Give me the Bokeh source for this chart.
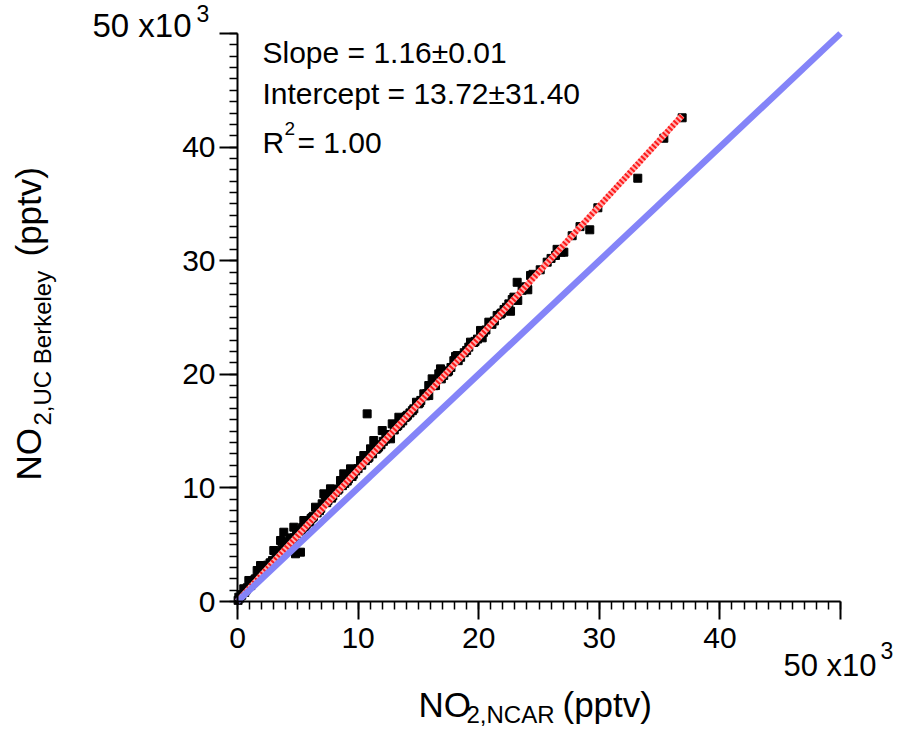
import math
from bokeh.plotting import figure
from bokeh.models import Range1d, SingleIntervalTicker, Label
from bokeh.embed import file_html
from bokeh.resources import INLINE

# NO2 mixing ratios, units of 10^3 pptv
ncar = [0.05, 0.11, 0.2, 0.35, 0.52, 0.6, 0.8, 0.94, 1.1, 1.3, 1.5, 1.63, 1.75, 1.91, 2.1, 2.3,
        2.5, 2.7, 2.9, 3.01, 3.2, 3.4, 3.57, 3.7, 3.84, 4.0, 4.2, 4.4, 4.67, 4.81, 4.9, 5.22,
        5.1, 5.3, 5.5, 5.7, 5.9, 6.1, 6.3, 6.47, 6.6, 6.8, 7.02, 7.16, 7.3, 7.5, 7.71, 7.9,
        8.1, 8.3, 8.54, 8.7, 8.81, 8.96, 9.1, 9.37, 9.6, 9.8, 10.0, 10.2, 10.47, 10.6, 10.75,
        10.9, 11.03, 11.2, 11.3, 11.5, 11.7, 12.0, 12.1, 12.3, 12.5, 12.69, 12.83, 13.0, 13.2,
        13.38, 13.5, 13.7, 13.9, 14.1, 14.3, 14.62, 14.84, 15.0, 15.2, 15.45, 15.6, 15.86,
        15.86, 16.14, 16.42, 16.69, 16.83, 17.1, 17.4, 17.7, 17.94, 18.08, 18.22, 18.5, 18.8,
        19.18, 19.32, 19.6, 19.9, 20.15, 20.29, 20.6, 20.84, 20.98, 21.3, 21.53, 21.8, 22.1,
        22.5, 22.64, 22.78, 22.92, 23.19, 23.24, 23.6, 24.02, 24.07, 24.3, 24.5, 25.68, 26.37,
        26.5, 26.84, 27.06, 27.75, 29.21, 29.88, 33.19, 35.35, 36.87,
        0.3, 0.7, 1.2, 1.4, 2.0, 2.2, 2.6, 2.8, 3.3, 3.5, 3.9, 4.1, 4.5, 4.7, 5.4, 5.6,
        6.0, 6.2, 6.9, 7.4, 7.8, 8.4, 8.9, 9.2, 9.5, 10.3, 10.8, 11.6, 11.9, 12.6, 13.3,
        14.0, 14.5, 15.1, 15.7, 16.3, 16.9, 17.5, 18.3, 19.0, 19.7, 20.4, 21.1, 21.9, 22.3,
        23.0, 23.9, 25.1, 26.0, 28.4]
ucb = [0.1, 0.38, 0.3, 0.55, 1.12, 0.8, 1.2, 1.85, 1.4, 1.7, 2.0, 2.73, 2.3, 3.17, 2.6, 3.0,
       3.2, 3.4, 3.6, 4.49, 4.0, 4.3, 5.37, 4.6, 6.1, 5.0, 5.3, 5.6, 6.54, 4.2, 6.0, 4.34,
       6.2, 6.3, 7.13, 6.8, 7.0, 7.3, 7.5, 8.3, 7.8, 8.0, 8.6, 9.48, 9.33, 8.9, 9.92, 9.3,
       9.6, 9.8, 10.65, 10.2, 11.24, 11.09, 10.6, 11.68, 11.2, 11.5, 11.7, 12.41, 12.85, 12.4, 16.52,
       12.7, 13.44, 13.0, 14.17, 13.4, 13.6, 15.05, 14.1, 14.3, 14.6, 14.32, 15.64, 15.1, 15.4,
       16.22, 15.7, 15.9, 16.2, 16.4, 16.6, 16.96, 17.54, 17.4, 17.7, 18.28, 18.1, 18.13,
       19.01, 19.6, 19.01, 20.04, 20.48, 19.9, 20.2, 20.6, 21.2, 21.57, 21.65, 21.5, 21.9,
       22.39, 22.83, 22.8, 23.1, 23.86, 23.21, 23.9, 24.59, 24.5, 24.7, 25.18, 25.3, 25.7,
       26.2, 25.55, 26.58, 26.79, 28.1, 26.5, 27.4, 27.67, 27.44, 28.7, 28.8, 29.87, 30.46,
       31.0, 30.75, 30.75, 32.2, 32.72, 34.66, 37.26, 40.78, 42.58,
       0.6, 1.0, 1.6, 1.9, 2.5, 2.8, 3.1, 3.4, 3.9, 4.2, 4.7, 4.9, 5.3, 5.6, 6.5, 6.6,
       7.0, 7.4, 8.2, 8.7, 9.1, 9.9, 10.4, 10.8, 11.0, 12.0, 12.6, 13.5, 13.8, 14.7, 15.5,
       16.3, 16.8, 17.5, 18.3, 19.0, 19.6, 20.3, 21.2, 22.1, 22.9, 23.7, 24.4, 25.4, 25.9,
       26.7, 27.7, 29.2, 30.2, 33.0]

slope = 1.16
intercept = 13.72 / 1000.0  # pptv -> 10^3 pptv
axis_min, axis_max = 0, 50
one_to_one = [axis_min, axis_max]

fit_x = [0, max(ncar)]
fit_y = [slope * v + intercept for v in fit_x]

FONT = "Liberation Sans"

# canvas size and where the axes box sits on it (pixels)
W, H = 900, 727
AL, AR, AT, AB = 237, 840, 33, 601
kx = (AR - AL) / (axis_max - axis_min)
ky = (AB - AT) / (axis_max - axis_min)


def dx(px):
    return axis_min + (px - AL) / kx


def dy(py):
    return axis_min + (AB - py) / ky


p = figure(width=W, height=H,
           x_range=Range1d(dx(0), dx(W)), y_range=Range1d(dy(H), dy(0)),
           output_backend="svg", toolbar_location=None,
           min_border=0, min_border_left=0, min_border_right=0,
           min_border_top=0, min_border_bottom=0)
p.grid.visible = False
p.outline_line_color = None
p.background_fill_color = "white"
p.border_fill_color = "white"

p.xaxis.fixed_location = axis_min
p.yaxis.fixed_location = axis_min
for ax in (p.xaxis[0], p.yaxis[0]):
    ax.bounds = (axis_min, axis_max)
    ax.ticker = SingleIntervalTicker(interval=10, num_minor_ticks=10)
    ax.major_label_overrides = {50: ""}
    ax.axis_line_width = 2
    ax.axis_line_color = "black"
    ax.major_tick_line_width = 2
    ax.major_tick_line_color = "black"
    ax.minor_tick_line_width = 1.5
    ax.minor_tick_line_color = "black"
    ax.major_tick_in = 0
    ax.major_tick_out = 18
    ax.minor_tick_in = 0
    ax.minor_tick_out = 8
    ax.major_label_text_font = FONT
    ax.major_label_text_font_size = "30px"
    ax.major_label_text_color = "black"
    ax.axis_label = None
p.xaxis.major_label_standoff = 8
p.yaxis.major_label_standoff = 4

p.scatter(ncar, ucb, marker="square", size=8, fill_color="black", line_color="black")
p.line(fit_x, fit_y, line_color="#ffb0b0", line_width=6)
p.line(fit_x, fit_y, line_color="#ff1a1a", line_width=6, line_dash="2 2")
p.line(one_to_one, one_to_one, line_color="#8484f8", line_width=6.5)


def lab(px, py, text, size, align="left", angle=0.0):
    p.add_layout(Label(x=dx(px), y=dy(py), text=text, text_font=FONT,
                       text_font_size=size, text_align=align,
                       text_baseline="middle", angle=angle, text_color="black"))


# fit statistics
lab(262, 52, "Slope = %.2f\u00b10.01" % slope, "30px")
lab(262, 93, "Intercept = %.2f\u00b131.40" % (intercept * 1000), "30px")
lab(262, 142, "R", "30px")
lab(284, 128, "2", "19px")
lab(297, 142, " = 1.00", "30px")

# exponent labels at the axis ends
lab(92, 25, "50 x10", "33px")
lab(196, 13, "3", "23px")
lab(783, 665, "50 x10", "31px")
lab(880, 650, "3", "23px")

# x-axis title
lab(418, 704, "NO", "35px")
lab(466, 714, "2,NCAR", "24px")
lab(562, 704, " (pptv)", "35px")

# y-axis title (rotated)
up = math.pi / 2
lab(28, 480, "NO", "35px", angle=up)
lab(42, 425, "2,UC Berkeley", "24px", angle=up)
lab(28, 256, " (pptv)", "35px", angle=up)

open("out.html", "w").write(file_html(p, INLINE))
